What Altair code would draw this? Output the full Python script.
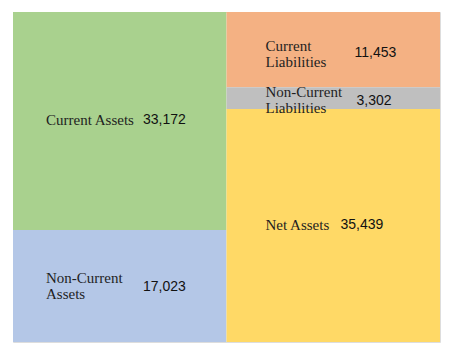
import altair as alt
import pandas as pd

# --- data ---
names = ["Current Assets", "Non-Current\nAssets", "Current\nLiabilities",
         "Non-Current\nLiabilities", "Net Assets"]
values = [33172, 17023, 11453, 3302, 35439]
side = [0, 0, 1, 1, 1]          # 0 = assets column, 1 = liabilities & equity column
colors = ["#A9D18E", "#B4C7E7", "#F4B183", "#BFBFBF", "#FFD966"]

# --- layout (label offsets in px) ---
name_dx = [33, 33, 39, 39, 39]
value_dx = [130, 130, 128, 130, 114]
name_dy = [-1, -8, -4, -6, 0]
value_dy = [-1, 1, 3, 3, 0]
W, H = 427, 330
COL_PX = W / 2

df = pd.DataFrame({"name": names, "value": values, "side": side, "color": colors,
                   "ndx": name_dx, "vdx": value_dx, "ndy": name_dy, "vdy": value_dy})
df["y1"] = df.groupby("side")["value"].cumsum()
df["y0"] = df["y1"] - df["value"]
df["x1"] = df["side"] + 1
total = max(df.groupby("side")["value"].sum())
df["ymid"] = (df["y0"] + df["y1"]) / 2
df["yn"] = df["ymid"] + df["ndy"] * total / H
df["yv"] = df["ymid"] + df["vdy"] * total / H
df["xn"] = df["side"] + df["ndx"] / COL_PX
df["xv"] = df["side"] + df["vdx"] / COL_PX

xs = alt.Scale(domain=[0, 2], nice=False, zero=False)
ys = alt.Scale(domain=[0, total], nice=False, zero=False, reverse=True)

base = alt.Chart(df)

rects = base.mark_rect(strokeWidth=0).encode(
    x=alt.X("side:Q", scale=xs, axis=None),
    x2="x1:Q",
    y=alt.Y("y0:Q", scale=ys, axis=None),
    y2="y1:Q",
    color=alt.Color("color:N", scale=None),
)

name_text = base.mark_text(align="left", baseline="middle", font="Liberation Serif",
                           fontSize=15, lineBreak="\n", lineHeight=16,
                           color="#1f1f1f").encode(
    x=alt.X("xn:Q", scale=xs, axis=None),
    y=alt.Y("yn:Q", scale=ys, axis=None),
    text="name:N",
)

value_text = base.mark_text(align="left", baseline="middle", font="Liberation Sans",
                            fontSize=14, color="#111111").encode(
    x=alt.X("xv:Q", scale=xs, axis=None),
    y=alt.Y("yv:Q", scale=ys, axis=None),
    text=alt.Text("value:Q", format=","),
)

chart = alt.layer(rects, name_text, value_text).properties(
    width=W, height=H,
    autosize=alt.AutoSizeParams(type="none"),
    padding={"left": 13, "top": 12, "right": 13, "bottom": 13},
).configure_view(stroke="#E0E0E0", strokeWidth=1).configure(background="white")

chart.save("out.html", embed_options={"renderer": "svg", "actions": False})
